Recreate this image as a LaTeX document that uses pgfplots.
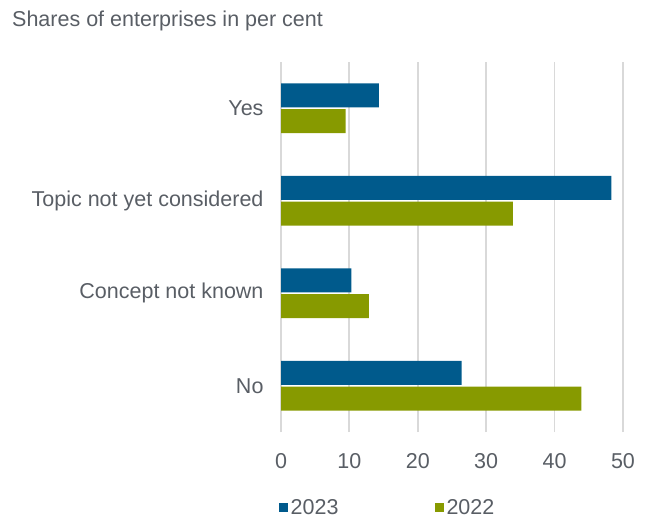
\documentclass[border=0pt]{standalone}
\usepackage{fontspec}
\setmainfont{Liberation Sans}
\usepackage{pgfplots}
\pgfplotsset{compat=1.18}
\definecolor{cblue}{RGB}{0,90,140}
\definecolor{cgreen}{RGB}{135,154,0}
\definecolor{ctext}{RGB}{89,94,101}
\definecolor{cgrid}{RGB}{217,217,217}
\begin{document}
\begin{tikzpicture}
\useasboundingbox (0,0) rectangle (646bp,519bp);
\node[anchor=west, text=ctext, font=\fontsize{21.5bp}{25bp}\selectfont, inner sep=0pt] at (12bp,498bp) {Shares of enterprises in per cent};
\begin{axis}[
  at={(281bp,87bp)}, anchor=south west,
  scale only axis, width=342bp, height=370bp,
  xbar, bar width=0.26,
  xmin=0, xmax=50, ymin=-0.5, ymax=3.5,
  xtick={0,10,20,30,40,50},
  ytick={0,1,2,3},
  yticklabels={No, Concept not known, Topic not yet considered, Yes},
  axis line style={draw=none},
  major tick length=0pt,
  xmajorgrids, grid style={color=cgrid, line width=1.8bp},
  tick label style={text=ctext, font=\fontsize{21.5bp}{25bp}\selectfont},
  /pgf/number format/assume math mode=true,
  xticklabel style={yshift=-18bp},
  yticklabel style={xshift=-14bp},
  legend style={draw=none, fill=none, at={(0,-0.205)}, anchor=west, xshift=-5bp,
    font=\fontsize{21.5bp}{25bp}\selectfont, text=ctext,
    /tikz/every even column/.append style={column sep=94bp},
    nodes={inner sep=2.5bp}},
  legend columns=2,
  legend image code/.code={\fill[#1] (0bp,-4.5bp) rectangle (9bp,4.5bp);},
]
\addplot[fill=cblue, draw=none, bar shift=0.14] coordinates {(26.4,0) (10.3,1) (48.3,2) (14.3,3)};
\addplot[fill=cgreen, draw=none, bar shift=-0.14] coordinates {(43.9,0) (12.85,1) (33.9,2) (9.45,3)};
\legend{2023, 2022}
\end{axis}
\end{tikzpicture}
\end{document}
